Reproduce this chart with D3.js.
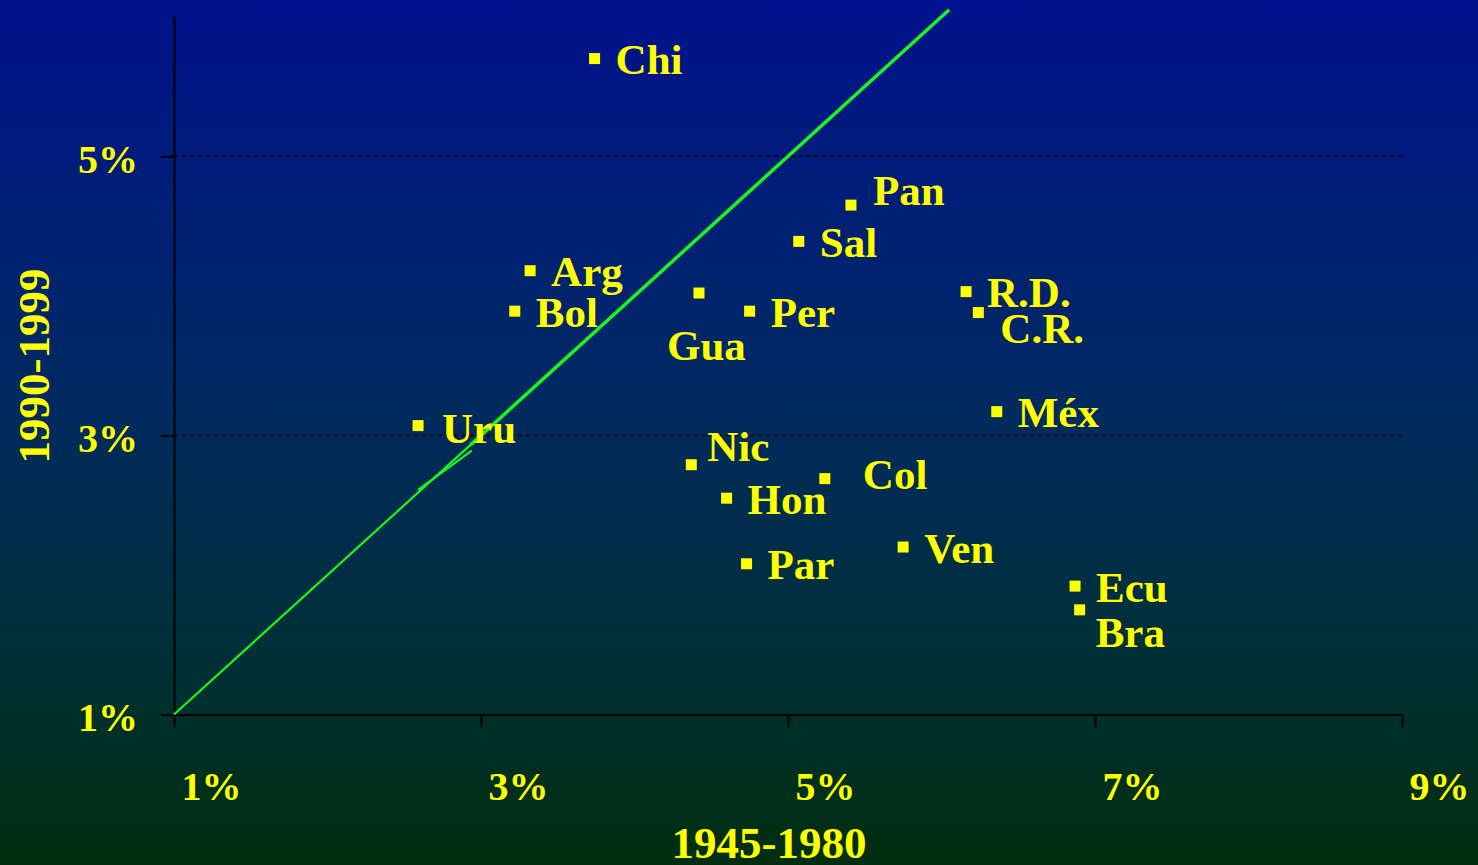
<!DOCTYPE html>
<html>
<head>
<meta charset="utf-8">
<script src="https://cdn.jsdelivr.net/npm/d3@7"></script>
<style>
  html, body { margin: 0; padding: 0; background: #001a60; }
  svg { display: block; }
  text { font-family: "Liberation Serif", "Times New Roman", serif; font-weight: bold; fill: #ffff00; }
</style>
</head>
<body>
<svg id="chart" width="1478" height="865"></svg>
<script>
// GDP growth per period, Latin American countries
const countries = ['Chi', 'Pan', 'Sal', 'Arg', 'Bol', 'Gua', 'Per', 'R.D.', 'C.R.', 'Méx',
    'Uru', 'Nic', 'Col', 'Hon', 'Par', 'Ven', 'Ecu', 'Bra'];
const growth4580 = [3.74, 5.41, 5.07, 3.32, 3.22, 4.42, 4.75, 6.16, 6.24, 6.36,
    2.59, 4.37, 5.24, 4.60, 4.73, 5.75, 6.87, 6.90];
const growth9099 = [5.70, 4.65, 4.39, 4.18, 3.89, 4.02, 3.89, 4.03, 3.88, 3.17,
    3.07, 2.79, 2.69, 2.55, 2.08, 2.20, 1.92, 1.75];

const xTicks = [1, 3, 5, 7, 9];
const yTicks = [1, 3, 5];
const gridTicks = [3, 5];

// 45 degree reference line (drawn in two pieces) and the small break mark
const diagonalThin = [[1, 1], [2.93, 2.93]];
const diagonalThick = [[2.93, 2.93], [6.05, 6.05]];
const breakMark = [[2.59, 2.61], [2.94, 2.89]];

// label placement tweaks (pixels from the marker centre)
const labelOffset = {
    'Pan': [22, 0],
    'Gua': [-32, 67],
    'C.R.': [22, 30],
    'Nic': [16, -4],
    'Col': [38, 10],
    'Bra': [16, 37],
    'Uru': [24, 17]
};

const svg = d3.select('#chart'),
    width = +svg.attr('width'),
    height = +svg.attr('height');

const defs = svg.append('defs');
const grad = defs.append('linearGradient')
    .attr('id', 'bg')
    .attr('x1', 0).attr('y1', 0)
    .attr('x2', 0).attr('y2', 1);
grad.append('stop').attr('offset', '0%').attr('stop-color', '#00128d');
grad.append('stop').attr('offset', '45%').attr('stop-color', '#002a62');
grad.append('stop').attr('offset', '75%').attr('stop-color', '#003038');
grad.append('stop').attr('offset', '100%').attr('stop-color', '#002e0e');

svg.append('rect')
    .attr('width', width)
    .attr('height', height)
    .attr('fill', 'url(#bg)');

const x = d3.scaleLinear().domain([1, 9]).range([174, 1402]);
const y = d3.scaleLinear().domain([1, 6]).range([714.5, 16.7]);

// dotted gridlines
svg.append('g')
    .selectAll('line')
    .data(gridTicks)
    .enter().append('line')
    .attr('x1', x(1))
    .attr('x2', x(9))
    .attr('y1', d => y(d))
    .attr('y2', d => y(d))
    .attr('stroke', '#000')
    .attr('stroke-width', 1.5)
    .attr('stroke-dasharray', '4,4');

// axes
const xAxis = svg.append('g')
    .attr('transform', 'translate(0,' + y(1) + ')')
    .call(d3.axisBottom(x)
        .tickValues(xTicks)
        .tickSize(13)
        .tickSizeOuter(0)
        .tickFormat(d => d + '%'));

const yAxis = svg.append('g')
    .attr('transform', 'translate(' + x(1) + ',0)')
    .call(d3.axisLeft(y)
        .tickValues(yTicks)
        .tickSize(13)
        .tickSizeOuter(0)
        .tickFormat(d => d + '%'));

[xAxis, yAxis].forEach(function (g) {
    g.attr('font-family', null).attr('font-size', null);
    g.select('.domain').attr('stroke', '#000').attr('stroke-width', 2);
    g.selectAll('.tick line').attr('stroke', '#000').attr('stroke-width', 2);
    g.selectAll('.tick text').attr('fill', '#ffff00').style('font-size', '40px');
});

xAxis.selectAll('.tick text')
    .attr('text-anchor', 'start')
    .attr('x', 7)
    .attr('y', 85.5)
    .attr('dy', 0);

yAxis.selectAll('.tick text')
    .attr('x', -36)
    .attr('dy', '0.41em');

// reference line
const line = d3.line()
    .x(d => x(d[0]))
    .y(d => y(d[1]));

svg.append('path')
    .datum(diagonalThin)
    .attr('d', line)
    .attr('fill', 'none')
    .attr('stroke', '#1cf51c')
    .attr('stroke-width', 2.2);

svg.append('path')
    .datum(diagonalThick)
    .attr('d', line)
    .attr('fill', 'none')
    .attr('stroke', '#1cf51c')
    .attr('stroke-width', 3.5);

svg.append('path')
    .datum(breakMark)
    .attr('d', line)
    .attr('fill', 'none')
    .attr('stroke', '#1cf51c')
    .attr('stroke-width', 2.2);

// points
const points = countries.map(function (c, i) {
    return {name: c, x: growth4580[i], y: growth9099[i]};
});

svg.append('g')
    .selectAll('rect')
    .data(points)
    .enter().append('rect')
    .attr('x', d => x(d.x) - 5.5)
    .attr('y', d => y(d.y) - 5.5)
    .attr('width', 11)
    .attr('height', 11)
    .attr('fill', '#ffff00');

svg.append('g')
    .selectAll('text')
    .data(points)
    .enter().append('text')
    .attr('x', function (d) {
        const off = labelOffset[d.name] || [21, 15.5];
        return x(d.x) + off[0];
    })
    .attr('y', function (d) {
        const off = labelOffset[d.name] || [21, 15.5];
        return y(d.y) + off[1];
    })
    .style('font-size', '43px')
    .text(d => d.name);

// axis titles
svg.append('text')
    .attr('x', 769)
    .attr('y', 858)
    .attr('text-anchor', 'middle')
    .style('font-size', '45px')
    .text('1945-1980');

svg.append('text')
    .attr('transform', 'translate(49,366) rotate(-90)')
    .attr('text-anchor', 'middle')
    .style('font-size', '45px')
    .text('1990-1999');
</script>
</body>
</html>
